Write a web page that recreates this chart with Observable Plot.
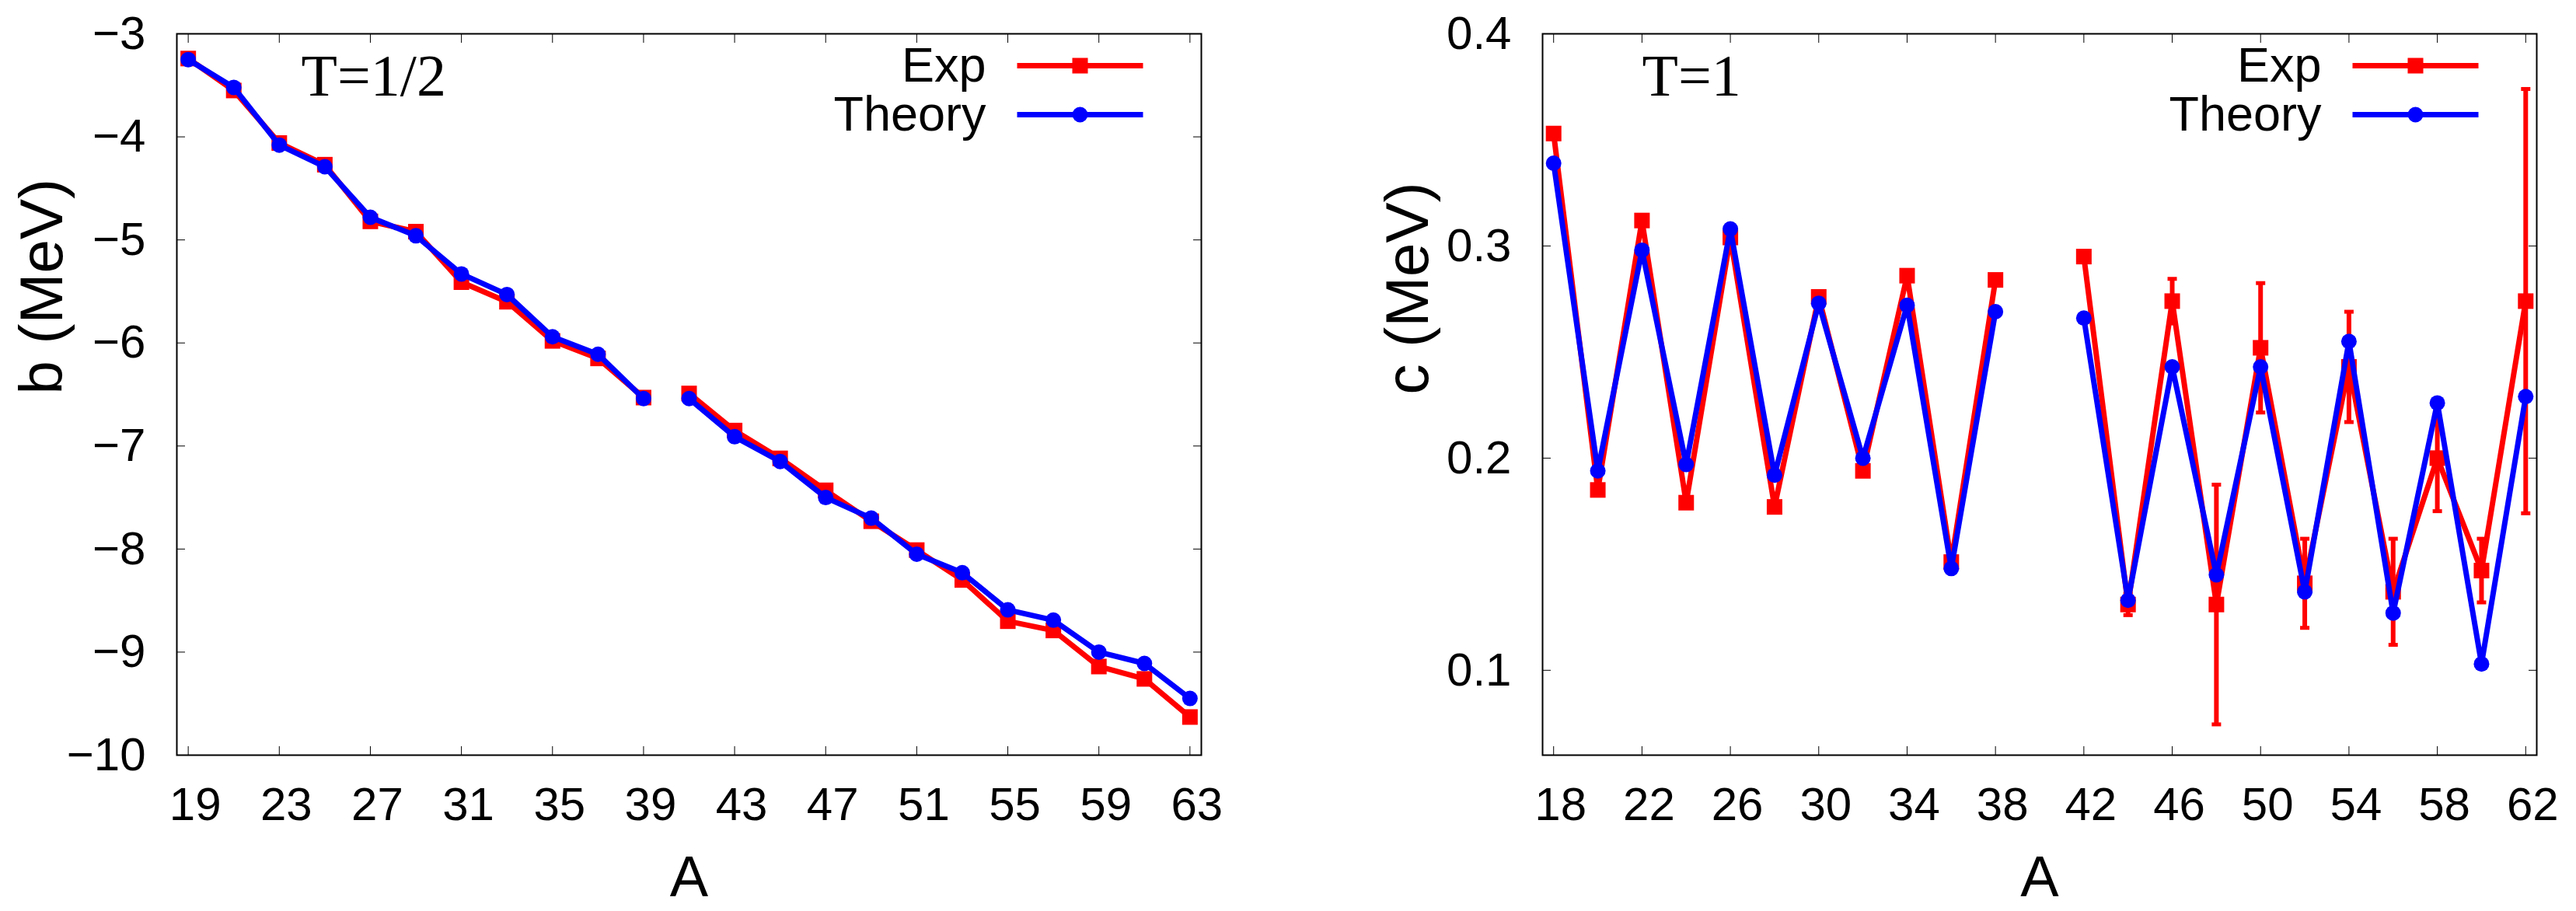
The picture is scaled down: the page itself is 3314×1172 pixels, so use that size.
<!DOCTYPE html>
<html>
<head>
<meta charset="utf-8">
<script src="https://cdn.jsdelivr.net/npm/d3@7"></script>
<script src="https://cdn.jsdelivr.net/npm/@observablehq/plot@0.6"></script>
<style>
  body { margin: 0; background: #fff; }
  #wrap { display: flex; width: 3314px; height: 1172px; }
</style>
</head>
<body>
<div id="wrap"><div id="chart_b"></div><div id="chart_c"></div></div>
<script>
// T=1/2 : b coefficient, odd A (no point at 40)
const aHalf = [19, 21, 23, 25, 27, 29, 31, 33, 35, 37, 39, 41, 43, 45, 47, 49, 51, 53, 55, 57, 59, 61, 63]
const bExp = [-3.24, -3.55, -4.06, -4.27, -4.82, -4.92, -5.41, -5.60, -5.98, -6.15, -6.53,
  -6.49, -6.85, -7.12, -7.43, -7.73, -8.01, -8.30, -8.70, -8.79, -9.14, -9.26, -9.63]
const bTheory = [-3.25, -3.52, -4.08, -4.29, -4.78, -4.96, -5.33, -5.53, -5.94, -6.11, -6.54,
  -6.54, -6.91, -7.15, -7.50, -7.70, -8.05, -8.23, -8.59, -8.69, -9.00, -9.11, -9.45]

// T=1 : c coefficient, even A (no point at 40)
const aOne = [18, 20, 22, 24, 26, 28, 30, 32, 34, 36, 38, 42, 44, 46, 48, 50, 52, 54, 56, 58, 60, 62]
const cExp = [0.353, 0.185, 0.312, 0.179, 0.304, 0.177, 0.276, 0.194, 0.286, 0.151, 0.284,
  0.295, 0.131, 0.274, 0.131, 0.252, 0.141, 0.243, 0.137, 0.200, 0.147, 0.274]
const cExpErr = [null, null, null, null, null, null, null, null, null, null, null,
  null, 0.005, 0.0105, 0.0565, 0.0305, 0.021, 0.026, 0.025, 0.025, 0.015, 0.100]
const cTheory = [0.339, 0.194, 0.298, 0.197, 0.308, 0.192, 0.273, 0.200, 0.272, 0.148, 0.269,
  0.266, 0.133, 0.243, 0.145, 0.243, 0.137, 0.255, 0.127, 0.226, 0.103, 0.229]

const xTicksHalf = [19, 23, 27, 31, 35, 39, 43, 47, 51, 55, 59, 63]
const yTicksHalf = [-10, -9, -8, -7, -6, -5, -4, -3]
const xTicksOne = [18, 22, 26, 30, 34, 38, 42, 46, 50, 54, 58, 62]
const yTicksOne = [0.1, 0.2, 0.3, 0.4]

const red = "#ff0000"
const blue = "#0000ff"
const sans = "'Liberation Sans', Arial, Helvetica, sans-serif"
const serif = "'Liberation Serif', 'Times New Roman', serif"

// small glyphs used as markers
const legendBar = {draw(ctx) { ctx.rect(-81, -3.5, 162, 7) }}
const errCap = {draw(ctx) { ctx.rect(-6, -2.5, 12, 5) }}

const rows = (xs, ys) => xs.map((a, i) => ({A: a, v: ys[i], seg: a < 40 ? 0 : 1}))

function panel({width, marginLeft, marginRight, xDomain, yDomain, xTicks, yTicks, yFormat,
                exp, theory, err, ylabel, tlabel, tdx}) {
  const expRows = exp
  const errRows = err ? exp.filter((d, i) => err[i] != null).map(d => ({...d, e: err[exp.indexOf(d)]})) : []
  return Plot.plot({
    width: width,
    height: 1172,
    marginLeft: marginLeft,
    marginRight: marginRight,
    marginTop: 43,
    marginBottom: 201,
    style: {fontFamily: sans, fontSize: "60px", color: "black", background: "white", overflow: "visible"},
    x: {domain: xDomain},
    y: {domain: yDomain},
    marks: [
      // inward ticks on all four sides
      Plot.axisX(xTicks, {anchor: "bottom", tickSize: 11, dy: -11, fill: "none", label: null}),
      Plot.axisX(xTicks, {anchor: "top", tickSize: 11, dy: 11, fill: "none", label: null}),
      Plot.axisY(yTicks, {anchor: "left", tickSize: 11, dx: 11, fill: "none", label: null}),
      Plot.axisY(yTicks, {anchor: "right", tickSize: 11, dx: -11, fill: "none", label: null}),
      // tick labels
      Plot.axisX(xTicks, {anchor: "bottom", tickSize: 0, tickPadding: 41, dx: 9, fontSize: 60, label: null}),
      Plot.axisY(yTicks, {anchor: "left", tickSize: 0, tickPadding: 40, fontSize: 60, label: null,
                          tickFormat: yFormat}),
      Plot.frame({stroke: "black", strokeWidth: 2}),
      // experiment
      Plot.line(expRows, {x: "A", y: "v", z: "seg", stroke: red, strokeWidth: 7}),
      Plot.ruleX(errRows, {x: "A", y1: d => d.v - d.e, y2: d => d.v + d.e, stroke: red, strokeWidth: 6}),
      Plot.dot(errRows, {x: "A", y: d => d.v - d.e, symbol: errCap, fill: red, stroke: null}),
      Plot.dot(errRows, {x: "A", y: d => d.v + d.e, symbol: errCap, fill: red, stroke: null}),
      Plot.dot(expRows, {x: "A", y: "v", symbol: "square", r: 11.3, fill: red, stroke: null}),
      // theory
      Plot.line(theory, {x: "A", y: "v", z: "seg", stroke: blue, strokeWidth: 7}),
      Plot.dot(theory, {x: "A", y: "v", symbol: "circle", r: 10, fill: blue, stroke: null}),
      // labels
      Plot.text([ylabel], {frameAnchor: "left", rotate: -90, dx: -172, fontSize: 78, fontFamily: sans,
                           lineAnchor: "middle", fill: "black"}),
      Plot.text(["A"], {frameAnchor: "bottom", dy: 181, lineAnchor: "bottom", fontSize: 74,
                        fontFamily: sans, fill: "black"}),
      Plot.text([tlabel], {frameAnchor: "top-left", dx: tdx, dy: 79, textAnchor: "start",
                           lineAnchor: "bottom", fontSize: 76, fontFamily: serif, fill: "black"}),
      // legend
      Plot.text(["Exp"], {frameAnchor: "top-right", dx: -277, dy: 41, textAnchor: "end",
                          lineAnchor: "middle", fontSize: 63, fontFamily: sans, fill: "black"}),
      Plot.dot([0], {frameAnchor: "top-right", dx: -156, dy: 41, symbol: legendBar, fill: red, stroke: null}),
      Plot.dot([0], {frameAnchor: "top-right", dx: -156, dy: 41, symbol: "square", r: 11.3, fill: red, stroke: null}),
      Plot.text(["Theory"], {frameAnchor: "top-right", dx: -277, dy: 104, textAnchor: "end",
                             lineAnchor: "middle", fontSize: 63, fontFamily: sans, fill: "black"}),
      Plot.dot([0], {frameAnchor: "top-right", dx: -156, dy: 104, symbol: legendBar, fill: blue, stroke: null}),
      Plot.dot([0], {frameAnchor: "top-right", dx: -156, dy: 104, symbol: "circle", r: 10, fill: blue, stroke: null})
    ]
  })
}

const chartB = panel({
  width: 1660, marginLeft: 227, marginRight: 115,
  xDomain: [18.5, 63.5], yDomain: [-10, -3],
  xTicks: xTicksHalf, yTicks: yTicksHalf, yFormat: d => d < 0 ? "\u2212" + Math.abs(d) : String(d),
  exp: rows(aHalf, bExp), theory: rows(aHalf, bTheory), err: null,
  ylabel: "b (MeV)", tlabel: "T=1/2", tdx: 160
})
d3.select("#chart_b").append(() => chartB)

const chartC = panel({
  width: 1654, marginLeft: 324, marginRight: 51,
  xDomain: [17.5, 62.5], yDomain: [0.06, 0.4],
  xTicks: xTicksOne, yTicks: yTicksOne, yFormat: d3.format(".1f"),
  exp: rows(aOne, cExp), theory: rows(aOne, cTheory), err: cExpErr,
  ylabel: "c (MeV)", tlabel: "T=1", tdx: 128
})
d3.select("#chart_c").append(() => chartC)
</script>
</body>
</html>
